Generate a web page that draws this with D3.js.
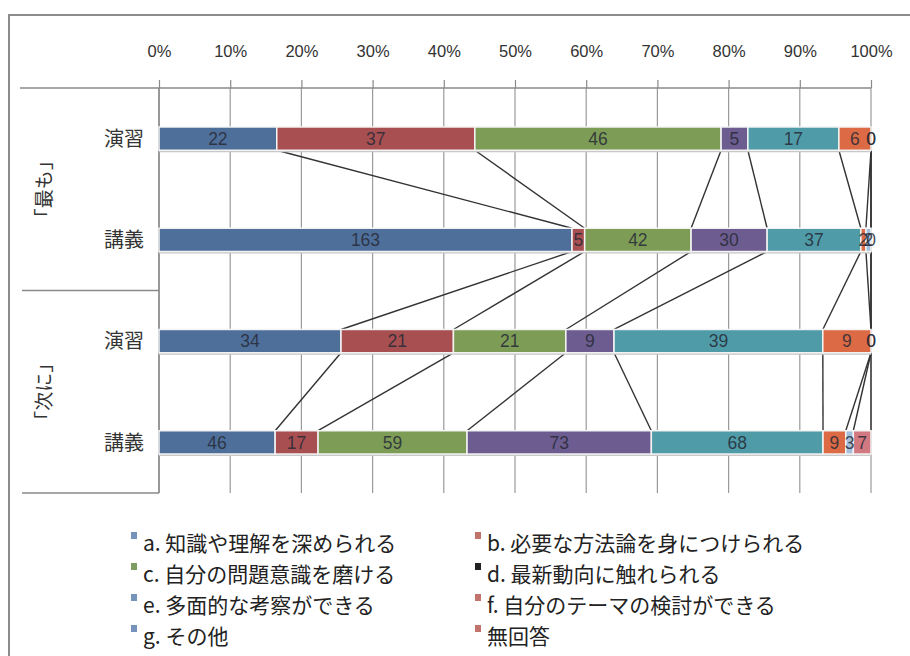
<!DOCTYPE html>
<html>
<head>
<meta charset="utf-8">
<script src="https://cdn.jsdelivr.net/npm/d3@7/dist/d3.min.js"></script>
<style>
  html, body { margin: 0; padding: 0; background: #ffffff; }
  svg { display: block; }
  .cjk { font-family: "Noto Sans CJK JP", "Noto Sans", sans-serif; }
  .num { font-family: "Liberation Sans", Arial, sans-serif; }
  .narrow { font-family: "Liberation Sans Narrow", "Liberation Sans", Arial, sans-serif; }
</style>
</head>
<body>
<svg id="chart" width="910" height="656"></svg>
<script>
// Survey answers: which benefit was felt "most" / "next" for 演習 and 講義
const groups = ["「最も」", "「次に」"];
const categories = ["演習", "講義", "演習", "講義"];
const seriesKeys = ["a", "b", "c", "d", "e", "f", "g", "n"];
const seriesNames = [
  "a. 知識や理解を深められる",
  "b. 必要な方法論を身につけられる",
  "c. 自分の問題意識を磨ける",
  "d. 最新動向に触れられる",
  "e. 多面的な考察ができる",
  "f. 自分のテーマの検討ができる",
  "g. その他",
  "無回答"
];
const seriesA = [22, 163, 34, 46];
const seriesB = [37, 5, 21, 17];
const seriesC = [46, 42, 21, 59];
const seriesD = [5, 30, 9, 73];
const seriesE = [17, 37, 39, 68];
const seriesF = [6, 2, 9, 9];
const seriesG = [0, 2, 0, 3];
const seriesN = [0, 0, 0, 7];
const tickLabels = ["0%", "10%", "20%", "30%", "40%", "50%", "60%", "70%", "80%", "90%", "100%"];

const barColors = ["#4e6f9a", "#a84f51", "#7d9c56", "#6c5c8f", "#4f9ba8", "#db6a45", "#a3bfdc", "#d27880"];
const legendColors = ["#7593bb", "#c2736c", "#7e9c62", "#222222", "#7593bb", "#c2736c", "#7593bb", "#c2736c"];

const allSeries = [seriesA, seriesB, seriesC, seriesD, seriesE, seriesF, seriesG, seriesN];
const rows = categories.map((c, i) => {
  const r = { idx: i };
  seriesKeys.forEach((k, j) => { r[k] = allSeries[j][i]; });
  return r;
});

const stacked = d3.stack().keys(seriesKeys).offset(d3.stackOffsetExpand)(rows);

const svg = d3.select("#chart");

// outer chart frame
svg.append("path")
  .attr("d", "M9,656 V15 H910")
  .attr("fill", "none").attr("stroke", "#8c8c8c").attr("stroke-width", 2);

const x = d3.scaleLinear().domain([0, 1]).range([159, 871]);
const y = d3.scaleBand().domain(d3.range(categories.length)).range([88, 493])
  .paddingInner(0.77).paddingOuter(0.385);

const plotTop = 88, plotBottom = 493;

// vertical gridlines
svg.append("g").selectAll("line")
  .data(d3.range(0, 1.0001, 0.1))
  .join("line")
  .attr("x1", d => x(d)).attr("x2", d => x(d))
  .attr("y1", plotTop).attr("y2", plotBottom)
  .attr("stroke", "#9a9a9a").attr("stroke-width", 1.2);

// top value axis
const axis = d3.axisTop(x)
  .tickValues(d3.range(0, 1.0001, 0.1))
  .tickFormat((d, i) => tickLabels[i])
  .tickSize(8).tickPadding(23);
const axG = svg.append("g").attr("transform", `translate(0,${plotTop})`).call(axis);
axG.select(".domain").remove();
axG.selectAll(".tick line").attr("stroke", "#8a8a8a").attr("stroke-width", 1.2);
axG.selectAll(".tick text")
  .attr("class", "narrow")
  .attr("font-size", 16.5).attr("fill", "#333");
svg.append("line")
  .attr("x1", 20).attr("x2", x(1)).attr("y1", plotTop).attr("y2", plotTop)
  .attr("stroke", "#8a8a8a").attr("stroke-width", 1.5);

// category axis (two levels)
const catG = svg.append("g");
catG.append("line").attr("x1", x(0)).attr("x2", x(0)).attr("y1", plotTop).attr("y2", plotBottom)
  .attr("stroke", "#8a8a8a").attr("stroke-width", 1.5);
const midY = (plotTop + plotBottom) / 2;
[midY, plotBottom].forEach(yy => {
  catG.append("line").attr("x1", 22).attr("x2", x(0)).attr("y1", yy).attr("y2", yy)
    .attr("stroke", "#8a8a8a").attr("stroke-width", 1.5);
});
catG.selectAll("text.cat")
  .data(categories)
  .join("text")
  .attr("class", "cjk")
  .attr("x", 144)
  .attr("y", (d, i) => y(i) + y.bandwidth() / 2)
  .attr("dy", "0.36em")
  .attr("text-anchor", "end")
  .attr("font-size", 20)
  .attr("fill", "#333")
  .text(d => d);
catG.selectAll("text.grp")
  .data(groups)
  .join("text")
  .attr("class", "cjk")
  .attr("transform", (d, i) => {
    const cy = plotTop + (plotBottom - plotTop) / 4 * (2 * i + 1);
    return `translate(44,${cy}) rotate(-90)`;
  })
  .attr("dy", "0.36em")
  .attr("text-anchor", "middle")
  .attr("font-size", 19)
  .attr("fill", "#333")
  .text(d => d);

// series lines joining the end of each segment between neighbouring bars
const linesG = svg.append("g");
stacked.forEach(layer => {
  for (let i = 0; i < categories.length - 1; i++) {
    linesG.append("line")
      .attr("x1", x(layer[i][1])).attr("y1", y(i) + y.bandwidth())
      .attr("x2", x(layer[i + 1][1])).attr("y2", y(i + 1))
      .attr("stroke", "#333").attr("stroke-width", 1.4);
  }
});

// bar shadows
svg.append("g").selectAll("rect")
  .data(d3.range(categories.length))
  .join("rect")
  .attr("x", x(0)).attr("y", i => y(i) + 2)
  .attr("width", x(1) - x(0)).attr("height", y.bandwidth())
  .attr("fill", "#c8c8c8");

// stacked segments
const segG = svg.append("g");
stacked.forEach((layer, j) => {
  segG.selectAll(null)
    .data(layer)
    .join("rect")
    .attr("x", d => x(d[0]))
    .attr("y", (d, i) => y(i))
    .attr("width", d => Math.max(0, x(d[1]) - x(d[0])))
    .attr("height", y.bandwidth())
    .attr("fill", barColors[j])
    .attr("stroke", d => (d[1] - d[0]) > 0 ? "#f4f4f4" : "none")
    .attr("stroke-width", 1.5);
});

// value labels
const labG = svg.append("g");
stacked.forEach((layer, j) => {
  labG.selectAll(null)
    .data(layer)
    .join("text")
    .attr("class", "num")
    .attr("x", d => x((d[0] + d[1]) / 2))
    .attr("y", (d, i) => y(i) + y.bandwidth() / 2)
    .attr("dy", "0.36em")
    .attr("text-anchor", "middle")
    .attr("font-size", 17.5)
    .attr("fill", "#262a36")
    .attr("fill-opacity", 0.85)
    .text(d => d.data[seriesKeys[j]]);
});

// legend
const legendX = [131, 475];
const legendY = [543, 574, 605, 636];
const legG = svg.append("g");
seriesNames.forEach((name, j) => {
  const lx = legendX[j % 2];
  const ly = legendY[Math.floor(j / 2)];
  legG.append("rect")
    .attr("x", lx).attr("y", ly - 11)
    .attr("width", 6).attr("height", 7)
    .attr("fill", legendColors[j]);
  legG.append("text")
    .attr("class", "cjk")
    .attr("x", lx + 12).attr("y", ly)
    .attr("dy", "0.36em")
    .attr("font-size", 21)
    .attr("fill", "#222")
    .text(name);
});
</script>
</body>
</html>
